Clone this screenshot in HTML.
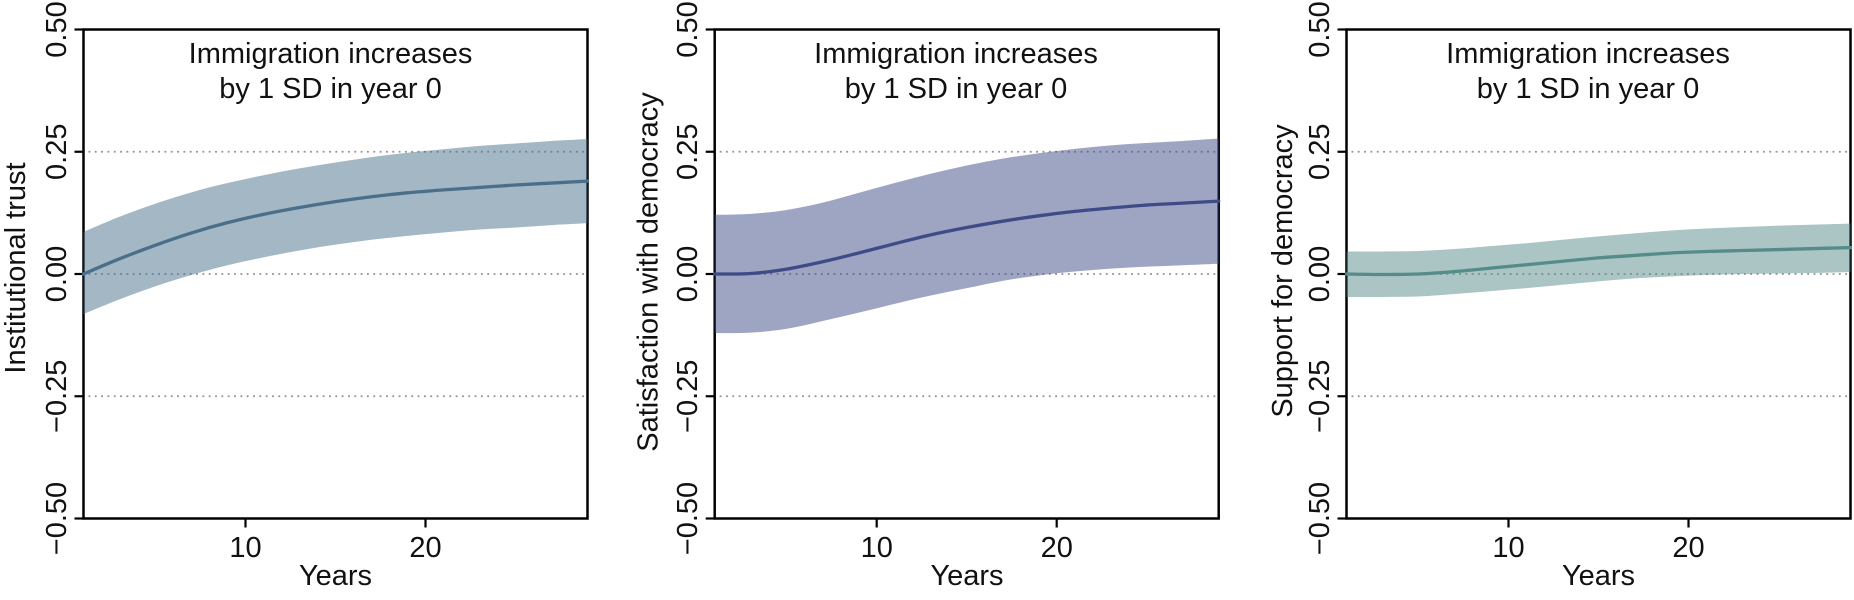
<!DOCTYPE html>
<html lang="en">
<head>
<meta charset="utf-8">
<title>Response to immigration increase</title>
<style>
  html, body { margin: 0; padding: 0; background: #fff; width: 1854px; height: 600px; overflow: hidden; }
  svg { display: block; }
  text { font-family: "Liberation Sans", Arial, sans-serif; font-size: 29px; fill: #111; }
</style>
</head>
<body>
<svg id="chart" xmlns="http://www.w3.org/2000/svg" width="1854" height="600" viewBox="0 0 1854 600">
  <g id="panel-a">
    <g class="marks"></g>
    <text x="330.5" y="63" text-anchor="middle">Immigration increases</text>
    <text x="330.5" y="98" text-anchor="middle">by 1 SD in year 0</text>
    <text x="335.5" y="585" text-anchor="middle">Years</text>
    <text transform="translate(25,268) rotate(-90)" text-anchor="middle">Institutional trust</text>
  </g>
  <g id="panel-b">
    <g class="marks"></g>
    <text x="956" y="63" text-anchor="middle">Immigration increases</text>
    <text x="956" y="98" text-anchor="middle">by 1 SD in year 0</text>
    <text x="967" y="585" text-anchor="middle">Years</text>
    <text transform="translate(657.5,272) rotate(-90)" text-anchor="middle">Satisfaction with democracy</text>
  </g>
  <g id="panel-c">
    <g class="marks"></g>
    <text x="1588" y="63" text-anchor="middle">Immigration increases</text>
    <text x="1588" y="98" text-anchor="middle">by 1 SD in year 0</text>
    <text x="1598.5" y="585" text-anchor="middle">Years</text>
    <text transform="translate(1292,271) rotate(-90)" text-anchor="middle">Support for democracy</text>
  </g>
</svg>
<script>
// Data
const years = [1, 3, 5, 7, 9, 11, 13, 15, 17, 19, 21, 23, 25, 27, 29];
const yTickValues = [-0.5, -0.25, 0, 0.25, 0.5];
const yTickLabels = ['\u22120.50', '\u22120.25', '0.00', '0.25', '0.50'];
const xTickValues = [10, 20];
const xTickLabels = ['10', '20'];
const gridValues = [-0.25, 0, 0.25];

const trustMean  = [0, 0.031, 0.059, 0.084, 0.105, 0.122, 0.136, 0.148, 0.158, 0.166, 0.172, 0.177, 0.182, 0.186, 0.190];
const trustUpper = [0.086, 0.117, 0.144, 0.167, 0.186, 0.202, 0.216, 0.228, 0.239, 0.248, 0.255, 0.262, 0.267, 0.272, 0.276];
const trustLower = [-0.082, -0.052, -0.025, -0.002, 0.018, 0.034, 0.048, 0.060, 0.070, 0.078, 0.085, 0.091, 0.095, 0.100, 0.104];

const satisfactionMean  = [0, 0.001, 0.010, 0.025, 0.043, 0.062, 0.080, 0.095, 0.108, 0.119, 0.128, 0.135, 0.141, 0.145, 0.149];
const satisfactionUpper = [0.121, 0.123, 0.131, 0.146, 0.166, 0.186, 0.205, 0.222, 0.236, 0.247, 0.256, 0.263, 0.268, 0.272, 0.277];
const satisfactionLower = [-0.121, -0.120, -0.112, -0.096, -0.079, -0.061, -0.044, -0.029, -0.014, -0.003, 0.005, 0.011, 0.015, 0.018, 0.021];

const supportMean  = [0, -0.001, 0, 0.005, 0.012, 0.019, 0.026, 0.033, 0.038, 0.043, 0.046, 0.048, 0.050, 0.052, 0.054];
const supportUpper = [0.046, 0.046, 0.047, 0.051, 0.057, 0.063, 0.070, 0.077, 0.083, 0.089, 0.093, 0.096, 0.099, 0.101, 0.103];
const supportLower = [-0.047, -0.047, -0.046, -0.041, -0.035, -0.029, -0.022, -0.015, -0.009, -0.005, -0.002, 0, 0.001, 0.002, 0.004];

const SVGNS = 'http://www.w3.org/2000/svg';
const TOP = 29.5, BOTTOM = 518.5, WIDTH = 504;
const X_MIN = 1, X_MAX = 29, Y_MIN = -0.5, Y_MAX = 0.5;

function yScale(v) { return BOTTOM - (v - Y_MIN) / (Y_MAX - Y_MIN) * (BOTTOM - TOP); }
function xScaleFor(left) {
  return function (v) { return left + (v - X_MIN) / (X_MAX - X_MIN) * WIDTH; };
}
function make(parent, tag, attrs) {
  const el = document.createElementNS(SVGNS, tag);
  for (const k in attrs) el.setAttribute(k, attrs[k]);
  parent.appendChild(el);
  return el;
}
function fmt(n) { return n.toFixed(2); }
// Catmull-Rom smoothing through the supplied points; returns path segments
function smooth(pts, moveFirst) {
  let d = (moveFirst ? 'M' : 'L') + fmt(pts[0][0]) + ' ' + fmt(pts[0][1]);
  for (let i = 0; i < pts.length - 1; i++) {
    const p0 = pts[Math.max(i - 1, 0)], p1 = pts[i], p2 = pts[i + 1], p3 = pts[Math.min(i + 2, pts.length - 1)];
    d += 'C' + fmt(p1[0] + (p2[0] - p0[0]) / 6) + ' ' + fmt(p1[1] + (p2[1] - p0[1]) / 6) + ' ' +
         fmt(p2[0] - (p3[0] - p1[0]) / 6) + ' ' + fmt(p2[1] - (p3[1] - p1[1]) / 6) + ' ' +
         fmt(p2[0]) + ' ' + fmt(p2[1]);
  }
  return d;
}

function drawPanel(id, left, color, mean, upper, lower) {
  const g = document.querySelector('#' + id + ' .marks');
  const x = xScaleFor(left);
  const right = left + WIDTH;

  gridValues.forEach(function (v) {
    const grid = make(g, 'line', { x1: left + 5, x2: right, y1: yScale(v), y2: yScale(v), stroke: '#8f8f8f', 'stroke-width': 1.8, 'stroke-dasharray': '1.8 4.53' });
    
    
  });

  const frame = make(g, 'rect', { x: left, y: TOP, width: WIDTH, height: BOTTOM - TOP, fill: 'none', stroke: '#000', 'stroke-width': 2.5 });
  
  

  yTickValues.forEach(function (v, i) {
    const tick = make(g, 'line', { x1: left - 9, x2: left, y1: yScale(v), y2: yScale(v), stroke: '#000', 'stroke-width': 2.2 });
    
    
    const label = make(g, 'text', { transform: 'translate(' + (left - 17.7) + ',' + yScale(v) + ') rotate(-90)', 'text-anchor': 'middle' });
    label.textContent = yTickLabels[i];
    
    
  });

  xTickValues.forEach(function (v, i) {
    const tick = make(g, 'line', { x1: x(v), x2: x(v), y1: BOTTOM, y2: BOTTOM + 9, stroke: '#000', 'stroke-width': 2.2 });
    
    
    const label = make(g, 'text', { x: x(v), y: 557, 'text-anchor': 'middle' });
    label.textContent = xTickLabels[i];
    
    
  });

  const upperPts = years.map(function (yr, i) { return [x(yr), yScale(upper[i])]; });
  const lowerPts = years.map(function (yr, i) { return [x(yr), yScale(lower[i])]; }).reverse();
  const band = make(g, 'path', { d: smooth(upperPts, true) + smooth(lowerPts, false) + 'Z', fill: color, 'fill-opacity': 0.5 });
  
  

  const meanPts = years.map(function (yr, i) { return [x(yr), yScale(mean[i])]; });
  const line = make(g, 'path', { d: smooth(meanPts, true), fill: 'none', stroke: color, 'stroke-width': 3.3, 'stroke-linecap': 'round' });
  
  
}

drawPanel('panel-a', 83.5, '#4a6f8a', trustMean, trustUpper, trustLower);
drawPanel('panel-b', 714.7, '#3d4b87', satisfactionMean, satisfactionUpper, satisfactionLower);
drawPanel('panel-c', 1346.5, '#558b88', supportMean, supportUpper, supportLower);
</script>
</body>
</html>
